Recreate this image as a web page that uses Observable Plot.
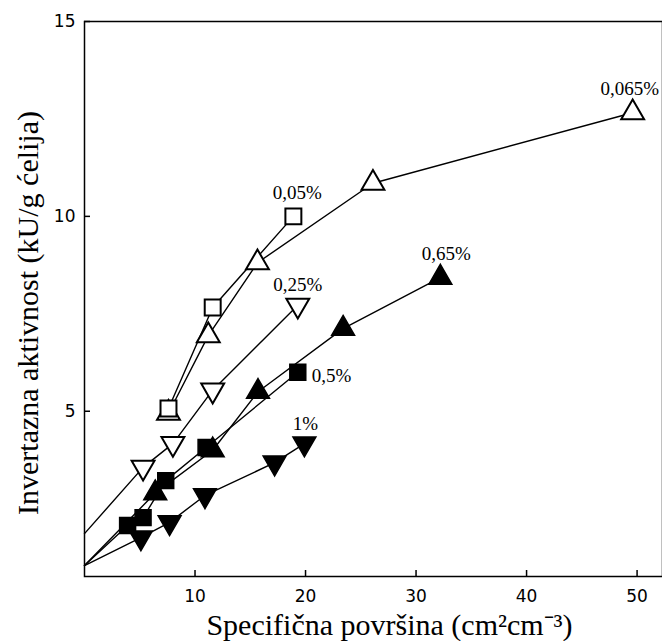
<!DOCTYPE html>
<html><head><meta charset="utf-8">
<script src="https://cdn.jsdelivr.net/npm/d3@7"></script>
<script src="https://cdn.jsdelivr.net/npm/@observablehq/plot@0.6"></script>
<style>body{margin:0;background:#fff}</style>
</head><body><div id="chart"></div>
<script>
// Series values (x: Specifična površina, y: Invertazna aktivnost)
const x0065 = [7.6, 11.2, 15.65, 26.1, 49.6];
const y0065 = [4.95, 6.94, 8.81, 10.85, 12.66];
const x005 = [7.6, 11.6, 18.9];
const y005 = [5.07, 7.66, 10.0];
const x025 = [5.3, 8.0, 11.6, 19.3];
const y025 = [3.56, 4.17, 5.54, 7.72];
const x065 = [6.4, 11.6, 15.7, 23.4, 32.2];
const y065 = [2.9, 4.0, 5.5, 7.12, 8.43];
const x05 = [3.9, 5.3, 7.35, 11.0, 19.3];
const y05 = [2.07, 2.27, 3.22, 4.07, 6.0];
const x1 = [5.1, 7.7, 10.9, 17.2, 19.9];
const y1 = [1.76, 2.15, 2.84, 3.68, 4.17];
// fitted lines start on the y axis (x = 0) for these series
const intercept025 = 1.86;
const intercept05 = 1.04;
const intercept065 = 1.04;
const intercept1 = 1.04;
const seriesLabels = ["0,065%", "0,05%", "0,25%", "0,65%", "0,5%", "1%"];
const xTicks = [10, 20, 30, 40, 50];
const yTicks = [5, 10, 15];
const xTitle = "Specifična površina (cm²cm⁻³)";
const yTitle = "Invertazna aktivnost (kU/g ćelija)";

const pts = (xs, ys, s) => xs.map((x, i) => ({x, y: ys[i], s}));
const s0065 = pts(x0065, y0065, "0,065%");
const s005 = pts(x005, y005, "0,05%");
const s025 = pts(x025, y025, "0,25%");
const s065 = pts(x065, y065, "0,65%");
const s05 = pts(x05, y05, "0,5%");
const s1 = pts(x1, y1, "1%");

const lines = [
  ...s0065, ...s005,
  {x: 0, y: intercept025, s: "0,25%"}, ...s025,
  {x: 0, y: intercept065, s: "0,65%"}, ...s065,
  {x: 0, y: intercept05, s: "0,5%"}, ...s05,
  {x: 0, y: intercept1, s: "1%"}, ...s1
];

const lastOf = a => a[a.length - 1];
const labelSpecs = [
  {p: lastOf(s0065), t: seriesLabels[0], dx: -3, dy: -24, a: "middle"},
  {p: lastOf(s005), t: seriesLabels[1], dx: 4, dy: -23, a: "middle"},
  {p: lastOf(s025), t: seriesLabels[2], dx: 0, dy: -20, a: "middle"},
  {p: lastOf(s065), t: seriesLabels[3], dx: 6, dy: -24, a: "middle"},
  {p: lastOf(s05), t: seriesLabels[4], dx: 14, dy: 4, a: "start"},
  {p: lastOf(s1), t: seriesLabels[5], dx: 1, dy: -20, a: "middle"}
];

const W = 662, H = 641, mL = 84, mR = 0, mT = 21, mB = 65;
const tickFont = "DejaVu Sans, sans-serif";
const serif = "Liberation Serif, Times New Roman, serif";
const open = {fill: "white", stroke: "black", strokeWidth: 2};
const full = {fill: "black", stroke: "black", strokeWidth: 1.5};

const chart = Plot.plot({
  width: W, height: H,
  marginLeft: mL, marginRight: mR, marginTop: mT, marginBottom: mB,
  style: {fontFamily: serif, background: "white", color: "black"},
  x: {domain: [0, 52.3]},
  y: {domain: [0.76, 15]},
  marks: [
    Plot.frame({stroke: "black", strokeWidth: 1.5}),
    Plot.axisX(xTicks, {tickSize: 0, tickPadding: 13, fontSize: 17, fontFamily: tickFont, label: null}),
    Plot.axisY(yTicks, {tickSize: 0, tickPadding: 9, fontSize: 17, fontFamily: tickFont, label: null}),
    Plot.ruleX(xTicks, {x: d => d, insetTop: H - mT - mB - 6, strokeWidth: 1.5}),
    Plot.ruleY(yTicks, {y: d => d, insetRight: W - mL - mR - 6, strokeWidth: 1.5}),
    Plot.line(lines, {x: "x", y: "y", z: "s", stroke: "black", strokeWidth: 1.4}),
    Plot.dot(s0065, {x: "x", y: "y", symbol: "triangle", r: 8.5, ...open}),
    Plot.dot(s005, {x: "x", y: "y", symbol: "square", r: 9, ...open}),
    Plot.dot(s025, {x: "x", y: "y", symbol: "triangle", rotate: 180, r: 8.5, ...open}),
    Plot.dot(s065, {x: "x", y: "y", symbol: "triangle", r: 8.5, ...full}),
    Plot.dot(s05, {x: "x", y: "y", symbol: "square", r: 9, ...full}),
    Plot.dot(s1, {x: "x", y: "y", symbol: "triangle", rotate: 180, r: 8.5, ...full}),
    ...labelSpecs.map(l => Plot.text([l.p], {x: "x", y: "y", text: () => l.t, dx: l.dx, dy: l.dy, textAnchor: l.a, fontSize: 19, fontFamily: serif})),
    Plot.text([xTitle], {text: d => d, frameAnchor: "bottom", textAnchor: "middle", dx: 16, dy: 58, lineAnchor: "bottom", fontSize: 30, fontFamily: serif}),
    Plot.text([yTitle], {text: d => d, frameAnchor: "left", textAnchor: "middle", dx: -56, dy: 14, rotate: -90, fontSize: 30, fontFamily: serif})
  ]
});
document.getElementById("chart").append(chart);
</script>
</body></html>
